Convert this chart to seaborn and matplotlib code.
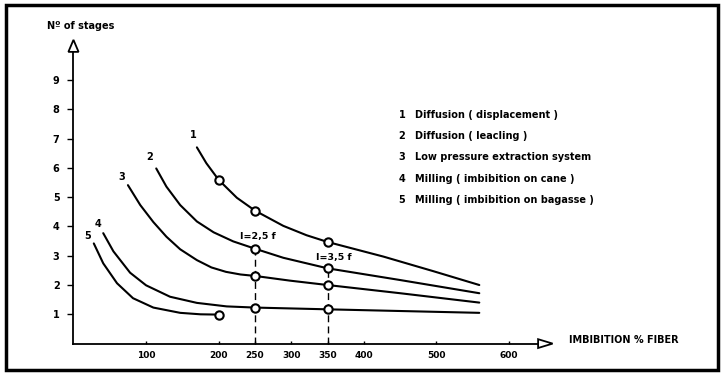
import matplotlib
matplotlib.use("Agg")
import matplotlib.pyplot as plt
import seaborn as sns
import pandas as pd
from matplotlib.patches import Rectangle

# ---------------- data ----------------
curve_ids = ["1", "2", "3", "4", "5"]
curve_names = [
    "Diffusion ( displacement )",
    "Diffusion ( leacling )",
    "Low pressure extraction system",
    "Milling ( imbibition on cane )",
    "Milling ( imbibition on bagasse )",
]
x1 = [170, 183, 200, 225, 250, 289, 321, 350, 427, 496, 559]
y1 = [6.70, 6.16, 5.59, 4.98, 4.54, 4.02, 3.70, 3.47, 2.97, 2.47, 2.00]
x2 = [114, 128, 147, 170, 193, 220, 250, 289, 350, 450, 559]
y2 = [5.98, 5.36, 4.73, 4.17, 3.80, 3.49, 3.24, 2.93, 2.57, 2.17, 1.72]
x3 = [75, 92, 110, 128, 147, 170, 190, 210, 230, 250, 298, 350, 450, 559]
y3 = [5.41, 4.73, 4.15, 3.65, 3.22, 2.85, 2.60, 2.45, 2.36, 2.31, 2.15, 2.00, 1.72, 1.40]
x4 = [41, 55, 78, 100, 133, 170, 211, 250, 350, 559]
y4 = [3.77, 3.15, 2.42, 1.99, 1.60, 1.39, 1.27, 1.23, 1.17, 1.05]
x5 = [28, 41, 60, 82, 110, 147, 175, 200]
y5 = [3.42, 2.74, 2.06, 1.55, 1.23, 1.05, 1.00, 0.99]

# open-circle markers
mk_curve = ["1", "1", "1", "2", "2", "3", "3", "4", "4", "5"]
mk_x = [200, 250, 350, 250, 350, 250, 350, 250, 350, 200]
mk_y = [5.59, 4.54, 3.47, 3.24, 2.57, 2.31, 2.00, 1.23, 1.17, 0.99]

# dashed reference lines
ref_x = [250, 350]
ref_top = [3.24, 2.57]
ref_labels = ["I=2,5 f", "I=3,5 f"]

x_ticks = [100, 200, 250, 300, 350, 400, 500, 600]
y_ticks = [1, 2, 3, 4, 5, 6, 7, 8, 9]

# ---------------- build tables ----------------
rows = []
for cid, xs, ys in zip(curve_ids, [x1, x2, x3, x4, x5], [y1, y2, y3, y4, y5]):
    for i, (xx, yy) in enumerate(zip(xs, ys)):
        rows.append({"curve": cid, "order": i, "x": xx, "y": yy})
df = pd.DataFrame(rows)
mk = pd.DataFrame({"curve": mk_curve, "x": mk_x, "y": mk_y})

sns.set_theme(style="white")
plt.rcParams["font.family"] = ["DejaVu Sans"]
plt.rcParams["text.color"] = "black"

fig = plt.figure(figsize=(7.22, 3.74), dpi=100)
ax = fig.add_axes([0, 0, 1, 1])

# pixel mapping: origin at (73.5, 343.6), 0.726 px/unit x, 29.29 px/unit y
ax.set_xlim(-101.2, 893.3)
ax.set_ylim(-1.038, 11.731)

sns.lineplot(data=df, x="x", y="y", hue="curve", units="curve", estimator=None,
             sort=False, palette=["black"] * 5, linewidth=1.5, legend=False, ax=ax)
for ln in ax.lines:
    ln.set_solid_joinstyle("round")
    ln.set_solid_capstyle("round")

for xx, top in zip(ref_x, ref_top):
    ax.plot([xx, xx], [0, top], color="black", lw=1.0, dashes=(5, 3), zorder=2)

sns.scatterplot(data=mk, x="x", y="y", marker="o", s=36, facecolor="white",
                edgecolor="black", linewidth=1.5, legend=False, ax=ax, zorder=5)

# axes lines
for s in ["top", "right"]:
    ax.spines[s].set_visible(False)
ax.spines["left"].set_position(("data", 0))
ax.spines["bottom"].set_position(("data", 0))
ax.spines["left"].set_bounds(0, 9.96)
ax.spines["bottom"].set_bounds(0, 640)
for s in ["left", "bottom"]:
    ax.spines[s].set_linewidth(1.3)
    ax.spines[s].set_color("black")

# arrow heads (open triangles)
ax.fill([-7, 7, 0], [9.96, 9.96, 10.37], facecolor="white", edgecolor="black", lw=1.3, zorder=6)
ax.fill([640, 640, 660], [-0.15, 0.15, 0], facecolor="white", edgecolor="black", lw=1.3, zorder=6)

ax.set_xticks(x_ticks)
ax.set_xticklabels([str(t) for t in x_ticks])
ax.set_yticks(y_ticks)
ax.set_yticklabels([str(t) for t in y_ticks])
ax.tick_params(axis="x", bottom=True, direction="in", length=2, width=1, pad=5,
               labelsize=6.5, colors="black")
ax.tick_params(axis="y", left=True, direction="out", length=4, width=1, pad=6,
               labelsize=7, colors="black")
for lab in ax.get_xticklabels() + ax.get_yticklabels():
    lab.set_fontweight("bold")
ax.set_xlabel("")
ax.set_ylabel("")

# curve number labels
num_pos = [(165, 7.12), (105, 6.37), (67, 5.69), (34, 4.08), (20, 3.67)]
for cid, (px, py) in zip(curve_ids, num_pos):
    ax.text(px, py, cid, fontsize=7, fontweight="bold", ha="center", va="center", color="black")

# reference labels
ax.text(254, 3.67, ref_labels[0], fontsize=6.8, fontweight="bold", ha="center", va="center", color="black")
ax.text(359, 2.95, ref_labels[1], fontsize=6.8, fontweight="bold", ha="center", va="center", color="black")

# legend (text list)
leg_y = [115, 136, 157, 179, 200]
for cid, name, py in zip(curve_ids, curve_names, leg_y):
    fig.text(402 / 722, 1 - py / 374, cid, fontsize=7, fontweight="bold", ha="center", va="center", color="black")
    fig.text(415 / 722, 1 - py / 374, name, fontsize=7, fontweight="bold", ha="left", va="center", color="black")

# axis titles
fig.text(47 / 722, 1 - 26 / 374, "Nº of stages", fontsize=7, fontweight="bold", ha="left", va="center", color="black")
fig.text(569 / 722, 1 - 340 / 374, "IMBIBITION % FIBER", fontsize=7, fontweight="bold", ha="left", va="center", color="black")

# frame
fig.patches.append(Rectangle((6 / 722, 4 / 374), 712 / 722, 365 / 374, transform=fig.transFigure,
                             fill=False, edgecolor="black", lw=2.5))

fig.savefig("out.png", dpi=100)
